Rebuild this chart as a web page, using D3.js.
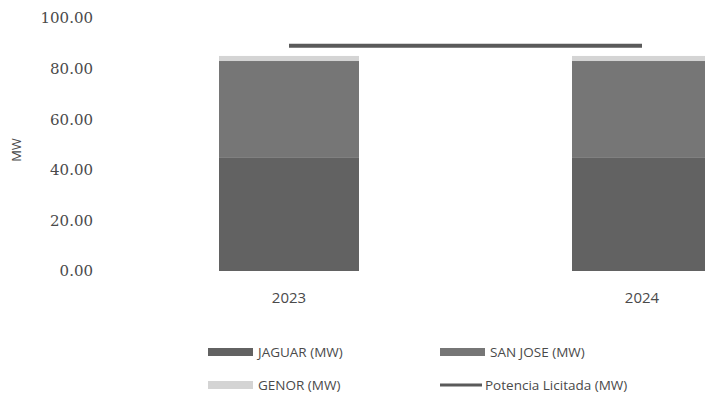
<!DOCTYPE html>
<html><head><meta charset="utf-8">
<script src="https://cdn.jsdelivr.net/npm/d3@7/dist/d3.min.js"></script>
<style>body{margin:0;background:#fff}svg{display:block}text{font-family:"Open Sans","Liberation Sans",sans-serif;fill:#4a4a4a}</style>
</head><body><svg id="c" width="705" height="398"></svg>
<script>
const categories = ["2023", "2024"];
const jaguar = [44.7, 44.7];
const sanJose = [38.3, 38.3];
const genor = [2.0, 2.0];
const potencia = [89.0, 89.0];
const yTicks = [0, 20, 40, 60, 80, 100];
const seriesNames = ["JAGUAR (MW)", "SAN JOSE (MW)", "GENOR (MW)", "Potencia Licitada (MW)"];

const svg = d3.select("#c");
const x = d3.scaleBand().domain(categories).range([112.5, 818.5]).paddingInner(0.6034).paddingOuter(0.3017);
const y = d3.scaleLinear().domain([0, 100]).range([271, 18]);

const colors = ["#626262", "#767676", "#d4d4d4"];
const stackData = categories.map((c, i) => ({cat: c, j: jaguar[i], s: sanJose[i], g: genor[i]}));
const stack = d3.stack().keys(["j", "s", "g"])(stackData);

svg.append("g").selectAll("g").data(stack).join("g")
  .attr("fill", (d, i) => colors[i])
  .selectAll("rect").data(d => d).join("rect")
  .attr("x", d => x(d.data.cat))
  .attr("width", x.bandwidth())
  .attr("y", d => y(d[1]))
  .attr("height", d => y(d[0]) - y(d[1]));

const line = d3.line().x((d, i) => x(categories[i]) + x.bandwidth() / 2).y(d => y(d));
svg.append("path").datum(potencia).attr("d", line).attr("fill", "none")
  .attr("stroke", "#5a5a5a").attr("stroke-width", 4);

const yAxis = d3.axisLeft(y).tickValues(yTicks).tickFormat(d3.format(".2f")).tickSize(0).tickPadding(0);
const ga = svg.append("g").attr("transform", "translate(93,0)").call(yAxis);
ga.select(".domain").remove();
ga.selectAll("text").style("font-size", "15px").attr("fill", "#4a4a4a").style("font-family", '"DejaVu Serif", serif');

const xAxis = d3.axisBottom(x).tickSize(0).tickPadding(0);
const gx = svg.append("g").attr("transform", "translate(0,292)").call(xAxis);
gx.select(".domain").remove();
gx.selectAll("text").style("font-size", "15px").attr("fill", "#4a4a4a");

svg.append("text").attr("transform", "translate(21,150) rotate(-90)").attr("text-anchor", "middle")
  .style("font-size", "13px").text("MW");

const legend = [
  {name: seriesNames[0], type: "rect", color: colors[0], x: 208, y: 352},
  {name: seriesNames[1], type: "rect", color: colors[1], x: 440, y: 352},
  {name: seriesNames[2], type: "rect", color: colors[2], x: 208, y: 385},
  {name: seriesNames[3], type: "line", color: "#5a5a5a", x: 440, y: 385}
];
const lg = svg.append("g").selectAll("g").data(legend).join("g")
  .attr("transform", d => `translate(${d.x},${d.y})`);
lg.filter(d => d.type === "rect").append("rect").attr("x", 0).attr("y", -4).attr("width", 45).attr("height", 8).attr("fill", d => d.color);
lg.filter(d => d.type === "line").append("line").attr("x1", 0).attr("x2", 42).attr("y1", 0).attr("y2", 0).attr("stroke", d => d.color).attr("stroke-width", 3);
lg.append("text").attr("x", d => d.type === "rect" ? 50 : 45).attr("dy", "0.35em").style("font-size", "13.5px").text(d => d.name);
</script></body></html>
